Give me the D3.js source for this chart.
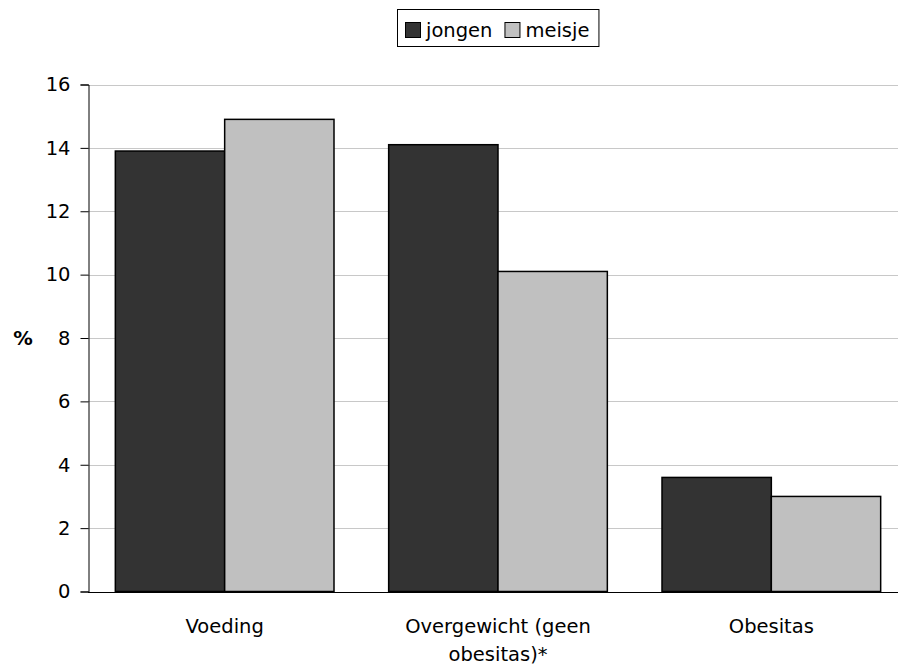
<!DOCTYPE html>
<html>
<head>
<meta charset="utf-8">
<script src="https://cdn.jsdelivr.net/npm/d3@7"></script>
<style>
  html, body { margin: 0; padding: 0; background: #fff; }
  svg { display: block; font-family: "DejaVu Sans", Verdana, sans-serif; }
</style>
</head>
<body>
<svg id="chart" width="898" height="671"></svg>
<script>
// Categories and values (percentages)
const categories = ["Voeding", "Overgewicht (geen obesitas)*", "Obesitas"];
const seriesNames = ["jongen", "meisje"];
const jongen = [13.9, 14.1, 3.6];
const meisje = [14.9, 10.1, 3.0];
const yTicks = [0, 2, 4, 6, 8, 10, 12, 14, 16];
const colors = ["#333333", "#c0c0c0"];

(function () {
const svg = d3.select("#chart");
const W = 898;
const plotLeft = 88, plotRight = 908, plotTop = 84.5, plotBottom = 591.5;
const fontSize = 19.5;

const x0 = d3.scaleBand().domain(categories).range([plotLeft, plotRight])
  .paddingInner(0.2).paddingOuter(0.1);
const x1 = d3.scaleBand().domain(seriesNames).range([0, x0.bandwidth()]);
const y = d3.scaleLinear().domain([0, 16]).range([plotBottom, plotTop]);

// gridlines
svg.append("g").selectAll("line").data(yTicks.filter(d => d > 0)).join("line")
  .attr("x1", plotLeft).attr("x2", W)
  .attr("y1", d => Math.round(y(d)) + 0.5).attr("y2", d => Math.round(y(d)) + 0.5)
  .attr("stroke", "#c8c8c8").attr("stroke-width", 1);

// bars
const rows = categories.map((c, i) => ({ cat: c, vals: [jongen[i], meisje[i]] }));
const groups = svg.append("g").selectAll("g").data(rows).join("g")
  .attr("transform", d => `translate(${x0(d.cat)},0)`);
groups.selectAll("rect").data(d => d.vals.map((v, j) => ({ key: seriesNames[j], v, j })))
  .join("rect")
  .attr("x", d => x1(d.key))
  .attr("y", d => y(d.v))
  .attr("width", x1.bandwidth())
  .attr("height", d => y(0) - y(d.v))
  .attr("fill", d => colors[d.j])
  .attr("stroke", "#000").attr("stroke-width", 1.5);

// y axis
const yAxis = d3.axisLeft(y).tickValues(yTicks).tickSize(8).tickPadding(10)
  .tickFormat(d3.format("d"));
const gy = svg.append("g").attr("transform", `translate(${plotLeft + 0.5},0)`).call(yAxis);
gy.select(".domain").attr("stroke", "#000");
gy.selectAll(".tick line").attr("stroke", "#000");
gy.selectAll(".tick text").attr("font-size", fontSize).attr("font-family", "DejaVu Sans").attr("fill", "#000");

// baseline
svg.append("line").attr("x1", plotLeft).attr("x2", W)
  .attr("y1", Math.round(y(0)) + 0.5).attr("y2", Math.round(y(0)) + 0.5)
  .attr("stroke", "#000").attr("stroke-width", 1);

// y label
svg.append("text").attr("x", 23).attr("y", y(8)).attr("dy", "0.35em")
  .attr("text-anchor", "middle").attr("font-weight", "bold").attr("font-size", fontSize)
  .text("%");

// category labels, wrapped
const xLabels = svg.append("g").selectAll("text").data(categories).join("text")
  .attr("x", d => x0(d) + x0.bandwidth() / 2)
  .attr("y", 633)
  .attr("text-anchor", "middle").attr("font-size", fontSize);
xLabels.each(function (d) {
  const t = d3.select(this);
  const words = d.split(" ");
  let line = [], lines = [];
  const maxW = 215;
  words.forEach(w => {
    const test = line.concat(w).join(" ");
    t.text(test);
    if (this.getComputedTextLength() > maxW && line.length) { lines.push(line.join(" ")); line = [w]; }
    else line.push(w);
  });
  lines.push(line.join(" "));
  t.text(null);
  lines.forEach((l, i) => t.append("tspan").attr("x", x0(d) + x0.bandwidth() / 2).attr("dy", i ? 28 : 0).text(l));
});

// legend
const lg = svg.append("g");
let cx = 405;
const lgItems = lg.selectAll("g").data(seriesNames).join("g");
lgItems.each(function (name, i) {
  const g = d3.select(this);
  g.append("rect").attr("x", cx + 0.5).attr("y", 22.5).attr("width", 15).attr("height", 15)
    .attr("fill", colors[i]).attr("stroke", "#000").attr("stroke-width", 1);
  const t = g.append("text").attr("x", cx + 21).attr("y", 37).attr("font-size", fontSize).text(name);
  cx += 21 + t.node().getComputedTextLength() + 12;
});
lg.insert("rect", ":first-child").attr("x", 397.5).attr("y", 9.5)
  .attr("width", cx - 397 - 3).attr("height", 37)
  .attr("fill", "#fff").attr("stroke", "#000").attr("stroke-width", 1);
})();
</script>
</body>
</html>
